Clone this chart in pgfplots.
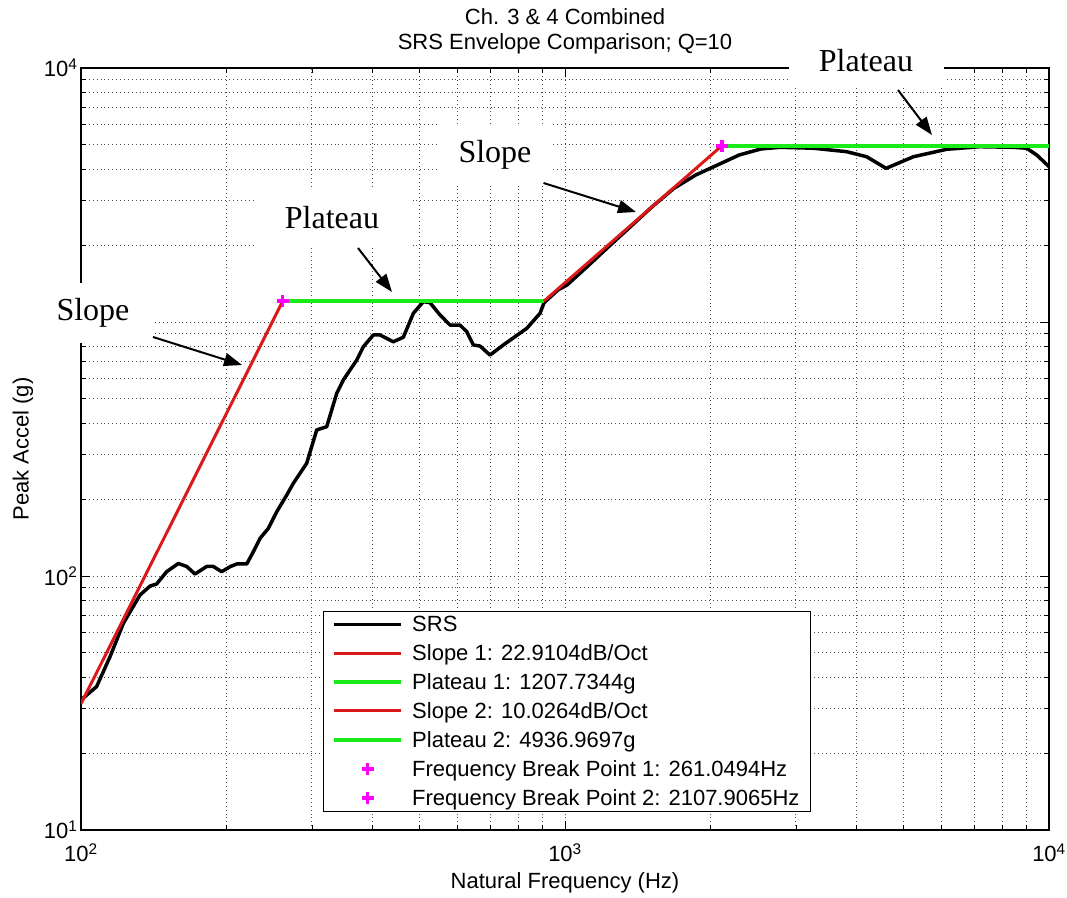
\documentclass[border=0pt]{standalone}
\usepackage{pgfplots}
\pgfplotsset{compat=1.18}
\usepackage{fontspec}
\setmainfont{Liberation Sans}
\newfontfamily\annfont{Liberation Serif}
\usetikzlibrary{arrows.meta}

\definecolor{srsred}{RGB}{220,25,25}
\definecolor{srsgreen}{RGB}{25,235,25}
\definecolor{bpmag}{RGB}{255,0,255}
\newcommand\mf{\fontsize{22}{25}\selectfont}

\begin{document}
\begin{tikzpicture}
\path[use as bounding box] (-81pt,-67pt) rectangle (986pt,830pt);
\begin{axis}[
    at={(0pt,0pt)}, anchor=south west,
    scale only axis, width=968pt, height=762pt,
    xmode=log, ymode=log,
    xmin=100, xmax=10000, ymin=10, ymax=10000,
    xtick={100,1000,10000},
    xticklabels={10\textsuperscript{2},10\textsuperscript{3},10\textsuperscript{4}},
    ytick={10,100,1000,10000},
    yticklabels={10\textsuperscript{1},10\textsuperscript{2},10\textsuperscript{3},10\textsuperscript{4}},
    minor xtick={200,300,400,500,600,700,800,900,2000,3000,4000,5000,6000,7000,8000,9000},
    minor ytick={20,30,40,50,60,70,80,90,200,300,400,500,600,700,800,900,2000,3000,4000,5000,6000,7000,8000,9000},
    tick label style={font=\mf},
    xticklabel style={yshift=-10pt},
    tick align=inside,
    major tick length=9pt, minor tick length=5pt,
    every tick/.style={black, line width=0.8pt},
    axis line style={line width=1.2pt},
    grid=both,
    major grid style={black!70, line width=0.9pt, dash pattern=on 0.9pt off 3pt},
    minor grid style={black!70, line width=0.9pt, dash pattern=on 0.9pt off 3pt},
    xlabel={Natural Frequency (Hz)},
    ylabel={Peak Accel (g)},
    label style={font=\mf},
    xlabel style={at={(axis description cs:0.5,-0.0696)}, anchor=center},
    ylabel style={at={(axis description cs:-0.0599,0.5)}, anchor=center},
    title={Ch. 3 \& 4 Combined\\SRS Envelope Comparison; Q=10},
    title style={at={(axis description cs:0.5,1.04)}, anchor=center, align=center, font=\mf},
    legend style={at={(axis description cs:0.2497,0.0236)}, anchor=south west,
        font=\mf, draw=black, line width=1pt, inner xsep=9pt, inner ysep=3pt,
        row sep=7.5pt, cells={anchor=west},
        /tikz/every odd column/.append style={column sep=7pt}},
    legend image code/.code={\draw[mark repeat=2,mark phase=2,#1] plot coordinates {(0pt,0pt) (33.5pt,0pt) (67pt,0pt)};},
]
\addplot[black, line width=3.5pt, line join=round] coordinates {
(100,32.5) (107.7,36.7) (114.8,48.1) (122.3,65.1) (132.4,84.2) (138.9,91.3)
(143.3,93) (150.3,104) (158.9,112) (165.4,109) (172,101.8) (181.8,109)
(187.7,109) (195.3,104) (203.2,108.8) (209.8,111.5) (220,111.5) (227,124.6)
(234.4,140.7) (243.8,154) (253.7,179) (266,208) (274.6,231.7) (292.6,277.8)
(306.9,375.8) (321.8,387) (337.6,524) (348.3,591) (371.2,708) (383.1,799)
(401.7,889) (414.6,889) (441.8,836) (463.4,871) (486,1082) (509.6,1202)
(526,1192) (551.7,1066) (578.7,973) (606.7,973) (626.6,916) (646.6,812)
(667.6,804) (699.8,741) (745.8,812) (833.6,944) (888,1082) (905,1190)
(967,1337) (1010,1399) (1111,1651) (1231,1981) (1365,2372) (1514,2844)
(1679,3359) (1862,3790) (2065,4150) (2290,4545) (2540,4800) (2782,4873)
(3260,4832) (3820,4683) (4200,4473) (4607,4027) (5245,4473) (6146,4786)
(7197,4900) (8436,4873) (8990,4832) (9432,4545) (10000,4088)
};
\addlegendentry{SRS}
\addplot[srsred, line width=3pt] coordinates {(100,31.4) (261.0494,1207.7344)};
\addlegendentry{Slope 1: 22.9104dB/Oct}
\addplot[srsgreen, line width=4pt] coordinates {(261.0494,1207.7344) (904.6,1207.7344)};
\addlegendentry{Plateau 1: 1207.7344g}
\addplot[srsred, line width=3pt] coordinates {(904.6,1207.7344) (2107.9065,4936.9697)};
\addlegendentry{Slope 2: 10.0264dB/Oct}
\addplot[srsgreen, line width=4pt] coordinates {(2107.9065,4936.9697) (10000,4936.9697)};
\addlegendentry{Plateau 2: 4936.9697g}
\addplot[bpmag, only marks, mark=+, mark size=6pt, line width=3.5pt] coordinates {(261.0494,1207.7344)};
\addlegendentry{Frequency Break Point 1: 261.0494Hz}
\addplot[bpmag, only marks, mark=+, mark size=6pt, line width=3.5pt] coordinates {(2107.9065,4936.9697)};
\addlegendentry{Frequency Break Point 2: 2107.9065Hz}
\end{axis}
% text-box annotations (figure-space, like the original)
\begin{scope}[every node/.style={fill=white, inner sep=0pt, font=\annfont\fontsize{32}{36}\selectfont},
              arr/.style={black, line width=2pt, -{Triangle[length=18pt,width=13pt]}}]
\node[minimum width=118pt, minimum height=60pt] at (12pt,517pt) {Slope};
\node[minimum width=155pt, minimum height=60pt] at (251pt,612pt) {Plateau};
\node[minimum width=116pt, minimum height=62pt] at (414pt,675pt) {Slope};
\node[minimum width=155pt, minimum height=48pt] at (785pt,769pt) {Plateau};
\draw[arr] (72pt,493pt) -- (161pt,465pt);
\draw[arr] (277pt,582pt) -- (311pt,538pt);
\draw[arr] (462.5pt,647pt) -- (555pt,618pt);
\draw[arr] (817pt,740pt) -- (851pt,695pt);
\end{scope}
\end{tikzpicture}
\end{document}
